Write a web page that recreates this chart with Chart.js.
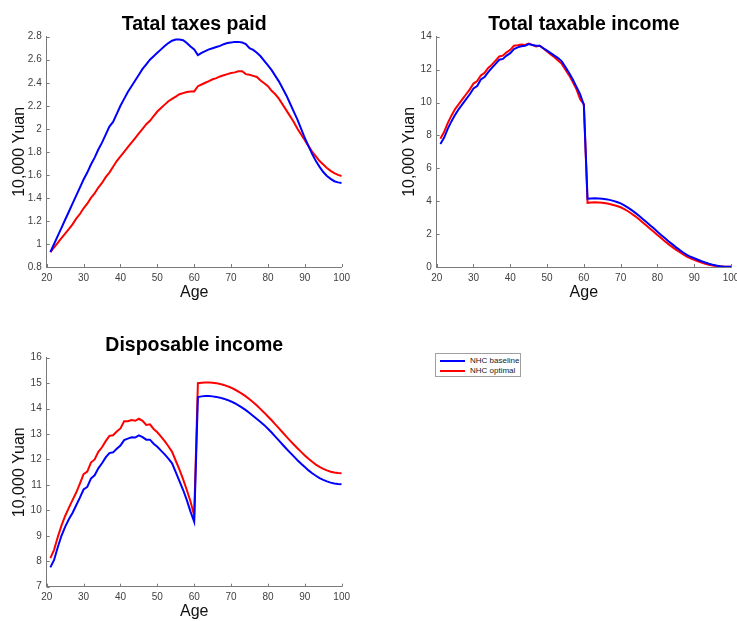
<!DOCTYPE html>
<html>
<head>
<meta charset="utf-8">
<script src="https://cdn.jsdelivr.net/npm/chart.js@4.4.1/dist/chart.umd.min.js"></script>
<style>
  html, body { margin: 0; padding: 0; background: #fff; }
  body { width: 737px; height: 621px; overflow: hidden; position: relative; font-family: "Liberation Sans", Arial, Helvetica, sans-serif; }
  canvas { position: absolute; }
  #legend { position: absolute; left: 435px; top: 353px; width: 86px; height: 24px; border: 1px solid #a0a0a0; background: #fff; box-sizing: border-box; }
  .item { position: absolute; left: 4px; height: 10px; font-size: 8px; line-height: 10px; color: #222; white-space: nowrap; }
  .item span.sw { position: absolute; left: 0; top: 4px; width: 25px; height: 2px; }
  .item span.tx { position: absolute; left: 30px; top: 0; color: #222; }
</style>
</head>
<body>
<canvas id="taxChart" width="360" height="302" style="left:0px;top:0px;"></canvas>
<canvas id="incomeChart" width="370" height="302" style="left:390px;top:0px;"></canvas>
<canvas id="dispChart" width="360" height="301" style="left:0px;top:320px;"></canvas>
<div id="legend">
  <div class="item" style="top:2px;"><span class="sw" style="background:#0000ff"></span><span class="tx">NHC baseline</span></div>
  <div class="item" style="top:12px;"><span class="sw" style="background:#ff0000"></span><span class="tx">NHC optimal</span></div>
</div>
<script>
// ages on the x axis
const ages = [21,22,23,24,25,26,27,28,29,30,31,32,33,34,35,36,37,38,39,40,
  41,42,43,44,45,46,47,48,49,50,51,52,53,54,55,56,57,58,59,60,
  61,62,63,64,65,66,67,68,69,70,71,72,73,74,75,76,77,78,79,80,
  81,82,83,84,85,86,87,88,89,90,91,92,93,94,95,96,97,98,99,100];

// total taxes paid (10,000 Yuan)
const taxBaseline = [0.93,1.00,1.07,1.14,1.21,1.28,1.35,1.42,1.49,1.56,
  1.62,1.69,1.75,1.82,1.88,1.95,2.02,2.06,2.13,2.20,
  2.26,2.32,2.37,2.42,2.47,2.52,2.56,2.60,2.63,2.66,
  2.69,2.72,2.745,2.765,2.775,2.775,2.77,2.745,2.715,2.69,
  2.64,2.66,2.675,2.69,2.70,2.71,2.72,2.735,2.745,2.75,
  2.755,2.755,2.75,2.735,2.70,2.685,2.66,2.63,2.59,2.55,
  2.51,2.46,2.41,2.35,2.29,2.22,2.15,2.08,2.00,1.92,
  1.85,1.78,1.72,1.67,1.625,1.59,1.565,1.545,1.535,1.53];
const taxOptimal = [0.93,0.97,1.01,1.05,1.09,1.13,1.17,1.22,1.26,1.31,
  1.35,1.40,1.44,1.49,1.53,1.58,1.62,1.67,1.72,1.76,
  1.80,1.84,1.88,1.92,1.96,2.00,2.04,2.07,2.11,2.15,
  2.18,2.21,2.24,2.26,2.28,2.30,2.31,2.32,2.325,2.325,
  2.37,2.385,2.40,2.415,2.43,2.44,2.455,2.465,2.475,2.485,
  2.49,2.50,2.50,2.475,2.47,2.46,2.45,2.42,2.395,2.37,
  2.33,2.30,2.26,2.21,2.16,2.11,2.06,2.00,1.95,1.90,
  1.85,1.80,1.76,1.72,1.69,1.66,1.635,1.615,1.60,1.59];

// total taxable income
const incomeBaseline = [7.48,7.85,8.4,8.85,9.25,9.6,9.9,10.2,10.5,10.85,
  11.0,11.4,11.55,11.85,12.1,12.35,12.6,12.65,12.85,13.0,
  13.25,13.35,13.42,13.45,13.55,13.5,13.45,13.45,13.3,13.15,
  13.0,12.85,12.7,12.5,12.15,11.8,11.4,10.95,10.5,9.85,
  4.15,4.17,4.18,4.17,4.15,4.12,4.08,4.02,3.95,3.87,
  3.75,3.61,3.46,3.29,3.11,2.92,2.73,2.54,2.35,2.15,
  1.95,1.76,1.57,1.39,1.21,1.04,0.88,0.74,0.62,0.53,
  0.44,0.35,0.27,0.20,0.14,0.09,0.05,0.03,0.02,0.01];
const incomeOptimal = [7.8,8.2,8.75,9.2,9.6,9.9,10.2,10.5,10.8,11.15,
  11.3,11.65,11.8,12.1,12.3,12.55,12.8,12.85,13.05,13.2,
  13.45,13.48,13.52,13.5,13.58,13.5,13.4,13.45,13.28,13.1,
  12.92,12.75,12.55,12.35,12.0,11.65,11.25,10.8,10.2,9.9,
  3.90,3.92,3.93,3.92,3.90,3.87,3.83,3.77,3.71,3.63,
  3.52,3.39,3.24,3.08,2.90,2.71,2.52,2.33,2.14,1.95,
  1.76,1.57,1.39,1.22,1.06,0.91,0.76,0.63,0.52,0.43,
  0.35,0.27,0.20,0.14,0.09,0.06,0.04,0.02,0.01,0.01];

// disposable income
const dispBaseline = [7.76,8.05,8.55,9.0,9.35,9.65,9.9,10.2,10.5,10.82,
  10.92,11.25,11.38,11.65,11.85,12.08,12.25,12.28,12.42,12.55,
  12.76,12.82,12.87,12.86,12.95,12.88,12.78,12.78,12.62,12.5,
  12.35,12.2,12.03,11.85,11.5,11.15,10.8,10.4,9.95,9.55,
  14.45,14.48,14.49,14.49,14.48,14.46,14.43,14.39,14.34,14.28,
  14.21,14.13,14.04,13.94,13.83,13.71,13.59,13.47,13.35,13.21,
  13.06,12.9,12.74,12.58,12.42,12.27,12.12,11.97,11.83,11.7,
  11.57,11.46,11.36,11.27,11.2,11.14,11.09,11.06,11.04,11.03];
const dispOptimal = [8.12,8.45,8.95,9.4,9.78,10.1,10.4,10.7,11.05,11.42,
  11.52,11.88,12.0,12.3,12.48,12.72,12.93,12.95,13.1,13.22,
  13.5,13.5,13.55,13.52,13.6,13.52,13.36,13.38,13.2,13.07,
  12.9,12.72,12.52,12.3,11.95,11.6,11.22,10.8,10.35,9.8,
  15.0,15.02,15.03,15.03,15.02,15.0,14.97,14.93,14.88,14.82,
  14.75,14.67,14.58,14.48,14.37,14.25,14.12,13.98,13.84,13.69,
  13.54,13.38,13.22,13.06,12.9,12.74,12.59,12.44,12.3,12.16,
  12.03,11.91,11.8,11.71,11.63,11.57,11.52,11.49,11.47,11.46];

// tick values
const ageTicks = [20,30,40,50,60,70,80,90,100];
const taxTicks = [0.8,1,1.2,1.4,1.6,1.8,2,2.2,2.4,2.6,2.8];
const incomeTicks = [0,2,4,6,8,10,12,14];
const dispTicks = [7,8,9,10,11,12,13,14,15,16];

const FONT = '"Liberation Sans", Arial, Helvetica, sans-serif';
const AXIS_COLOR = '#7a7a7a';

//small inward ticks like matlab
const innerTicks = {
    id: 'innerTicks',
    afterDatasetsDraw(chart) {
        const { ctx, chartArea, scales } = chart;
        ctx.save();
        ctx.strokeStyle = AXIS_COLOR;
        ctx.lineWidth = 1;
        scales.x.ticks.forEach(t => {
            const px = Math.round(scales.x.getPixelForValue(t.value)) + 0.5;
            ctx.beginPath();
            ctx.moveTo(px, chartArea.bottom);
            ctx.lineTo(px, chartArea.bottom - 3);
            ctx.stroke();
        });
        scales.y.ticks.forEach(t => {
            const py = Math.round(scales.y.getPixelForValue(t.value)) + 0.5;
            ctx.beginPath();
            ctx.moveTo(chartArea.left, py);
            ctx.lineTo(chartArea.left + 3, py);
            ctx.stroke();
        });
        ctx.restore();
    }
};

//title centered over the plot area
const panelTitle = {
    id: 'panelTitle',
    afterDraw(chart, args, opts) {
        const { ctx, chartArea } = chart;
        ctx.save();
        ctx.font = 'bold 19.5px ' + FONT;
        ctx.fillStyle = '#000';
        ctx.textAlign = 'center';
        ctx.textBaseline = 'alphabetic';
        ctx.fillText(opts.text, (chartArea.left + chartArea.right) / 2, chartArea.top - 7);
        ctx.restore();
    }
};

function toPoints(values) {
    return ages.map((a, i) => ({ x: a, y: values[i] }));
}

function makeChart(id, title, baseline, optimal, yTicks, pad, xHeight) {
    const ctx = document.getElementById(id);
    return new Chart(ctx, {
        type: 'line',
        data: {
            datasets: [
                { label: 'NHC baseline', data: toPoints(baseline), borderColor: '#0000ff', borderWidth: 2, pointRadius: 0, tension: 0 },
                { label: 'NHC optimal', data: toPoints(optimal), borderColor: '#ff0000', borderWidth: 2, pointRadius: 0, tension: 0 }
            ]
        },
        options: {
            responsive: false,
            animation: false,
            layout: { padding: pad },
            plugins: {
                legend: { display: false },
                tooltip: { enabled: false },
                panelTitle: { text: title }
            },
            scales: {
                x: {
                    type: 'linear',
                    min: 20,
                    max: 100,
                    afterBuildTicks: scale => { scale.ticks = ageTicks.map(v => ({ value: v })); },
                    afterFit: scale => { scale.height = xHeight; },
                    grid: { display: true, drawOnChartArea: false, drawTicks: false },
                    border: { display: true, color: AXIS_COLOR, width: 1 },
                    ticks: { padding: 5, color: '#404040', font: { family: FONT, size: 10 }, maxRotation: 0 },
                    title: { display: true, text: 'Age', color: '#111', font: { family: FONT, size: 16 }, padding: { top: 0, bottom: 0 } }
                },
                y: {
                    type: 'linear',
                    min: yTicks[0],
                    max: yTicks[yTicks.length - 1],
                    afterBuildTicks: scale => { scale.ticks = yTicks.map(v => ({ value: v })); },
                    afterFit: scale => { scale.width = 46.7; },
                    grid: { display: true, drawOnChartArea: false, drawTicks: false },
                    border: { display: true, color: AXIS_COLOR, width: 1 },
                    ticks: { padding: 5, color: '#404040', font: { family: FONT, size: 10 }, callback: v => String(+v.toFixed(1)) },
                    title: { display: true, text: '10,000 Yuan', color: '#111', font: { family: FONT, size: 16 }, padding: { top: 10, bottom: 0 } }
                }
            }
        },
        plugins: [innerTicks, panelTitle]
    });
}

makeChart('taxChart', 'Tatal taxes paid', taxBaseline, taxOptimal, taxTicks,
    { top: 36.7, right: 18.3, bottom: 0, left: 0 }, 35);
makeChart('incomeChart', 'Total taxable income', incomeBaseline, incomeOptimal, incomeTicks,
    { top: 36.7, right: 29, bottom: 0, left: 0 }, 35);
makeChart('dispChart', 'Disposable income', dispBaseline, dispOptimal, dispTicks,
    { top: 37.7, right: 18.3, bottom: 0, left: 0 }, 34.3);
</script>
</body>
</html>
